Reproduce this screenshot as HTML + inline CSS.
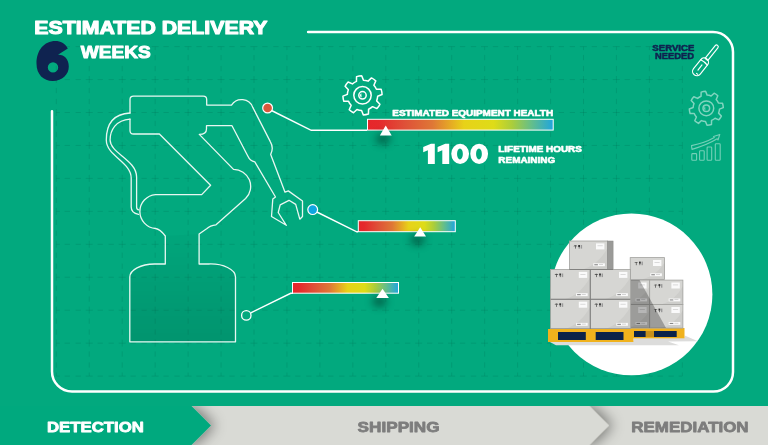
<!DOCTYPE html>
<html><head><meta charset="utf-8">
<style>
html,body{margin:0;padding:0;width:768px;height:445px;overflow:hidden;background:#02a97e;}
svg{display:block;will-change:transform;}
text{font-family:"Liberation Sans",sans-serif;font-weight:700;}
</style></head>
<body>
<svg width="768" height="445" viewBox="0 0 768 445">
<defs>
  <linearGradient id="hg" x1="0" x2="1" y1="0" y2="0">
    <stop offset="0" stop-color="#e6262b"/>
    <stop offset="0.06" stop-color="#e5292c"/>
    <stop offset="0.2" stop-color="#df5038"/>
    <stop offset="0.35" stop-color="#df7736"/>
    <stop offset="0.44" stop-color="#e5a626"/>
    <stop offset="0.52" stop-color="#e8d218"/>
    <stop offset="0.68" stop-color="#dedc18"/>
    <stop offset="0.78" stop-color="#aacd3c"/>
    <stop offset="0.88" stop-color="#66bf88"/>
    <stop offset="1" stop-color="#1fa5de"/>
  </linearGradient>
  <linearGradient id="basefill" x1="0" x2="0" y1="0" y2="1">
    <stop offset="0" stop-color="#000" stop-opacity="0.02"/>
    <stop offset="1" stop-color="#000" stop-opacity="0.12"/>
  </linearGradient>
  <filter id="tshadow" x="-100%" y="-100%" width="300%" height="300%">
    <feGaussianBlur stdDeviation="4"/>
  </filter>
  <filter id="cshadow" x="-50%" y="-50%" width="200%" height="200%">
    <feDropShadow dx="4" dy="0" stdDeviation="7" flood-color="#000" flood-opacity="0.45"/>
  </filter>
  <clipPath id="barclip"><rect x="0" y="406" width="768" height="39"/></clipPath>
</defs>

<!-- grid -->
<g id="grid" stroke="#000" stroke-opacity="0.085" stroke-width="1" fill="none" stroke-dasharray="7 4.83 5.3 5.68 5.3 4.83" stroke-dashoffset="3.5"><line x1="56.30" y1="46.60" x2="56.30" y2="376.10"/>
<line x1="89.25" y1="46.60" x2="89.25" y2="376.10"/>
<line x1="122.20" y1="46.60" x2="122.20" y2="376.10"/>
<line x1="155.15" y1="46.60" x2="155.15" y2="376.10"/>
<line x1="188.10" y1="46.60" x2="188.10" y2="376.10"/>
<line x1="221.05" y1="46.60" x2="221.05" y2="376.10"/>
<line x1="254.00" y1="46.60" x2="254.00" y2="376.10"/>
<line x1="286.95" y1="46.60" x2="286.95" y2="376.10"/>
<line x1="319.90" y1="46.60" x2="319.90" y2="376.10"/>
<line x1="352.85" y1="46.60" x2="352.85" y2="376.10"/>
<line x1="385.80" y1="46.60" x2="385.80" y2="376.10"/>
<line x1="418.75" y1="46.60" x2="418.75" y2="376.10"/>
<line x1="451.70" y1="46.60" x2="451.70" y2="376.10"/>
<line x1="484.65" y1="46.60" x2="484.65" y2="376.10"/>
<line x1="517.60" y1="46.60" x2="517.60" y2="376.10"/>
<line x1="550.55" y1="46.60" x2="550.55" y2="376.10"/>
<line x1="583.50" y1="46.60" x2="583.50" y2="376.10"/>
<line x1="616.45" y1="46.60" x2="616.45" y2="376.10"/>
<line x1="649.40" y1="46.60" x2="649.40" y2="376.10"/>
<line x1="682.35" y1="46.60" x2="682.35" y2="376.10"/>
<line x1="56.30" y1="46.60" x2="682.35" y2="46.60"/>
<line x1="56.30" y1="79.55" x2="682.35" y2="79.55"/>
<line x1="56.30" y1="112.50" x2="682.35" y2="112.50"/>
<line x1="56.30" y1="145.45" x2="682.35" y2="145.45"/>
<line x1="56.30" y1="178.40" x2="682.35" y2="178.40"/>
<line x1="56.30" y1="211.35" x2="682.35" y2="211.35"/>
<line x1="56.30" y1="244.30" x2="682.35" y2="244.30"/>
<line x1="56.30" y1="277.25" x2="682.35" y2="277.25"/>
<line x1="56.30" y1="310.20" x2="682.35" y2="310.20"/>
<line x1="56.30" y1="343.15" x2="682.35" y2="343.15"/>
<line x1="56.30" y1="376.10" x2="682.35" y2="376.10"/></g>

<!-- border -->
<path d="M308.1,32 H713 A20,20 0 0 1 733,52 V372 A19.5,19.5 0 0 1 713.5,391.5 H72 A20,20 0 0 1 52,371.5 V111.3" fill="none" stroke="#fff" stroke-width="2.5" stroke-linecap="round"/>

<!-- title -->
<text x="34.30" y="34.05" font-size="18.46" fill="#fff" stroke="#fff" stroke-width="1.1" stroke-linejoin="round" textLength="233.15" lengthAdjust="spacingAndGlyphs">ESTIMATED DELIVERY</text>
<text x="80.85" y="58.40" font-size="17.01" fill="#fff" stroke="#fff" stroke-width="1.0" stroke-linejoin="round" textLength="69.85" lengthAdjust="spacingAndGlyphs">WEEKS</text>
<text x="392.28" y="115.60" font-size="8.61" fill="#fff" stroke="#fff" stroke-width="0.6" stroke-linejoin="round" textLength="160.80" lengthAdjust="spacingAndGlyphs">ESTIMATED EQUIPMENT HEALTH</text>
<text x="498.32" y="151.95" font-size="8.78" fill="#fff" stroke="#fff" stroke-width="0.6" stroke-linejoin="round" textLength="83.46" lengthAdjust="spacingAndGlyphs">LIFETIME HOURS</text>
<text x="498.35" y="163.20" font-size="8.78" fill="#fff" stroke="#fff" stroke-width="0.6" stroke-linejoin="round" textLength="56.80" lengthAdjust="spacingAndGlyphs">REMAINING</text>
<text x="652.39" y="50.65" font-size="8.35" fill="#0f2350" stroke="#0f2350" stroke-width="0.5" stroke-linejoin="round" textLength="41.92" lengthAdjust="spacingAndGlyphs">SERVICE</text>
<text x="655.00" y="59.25" font-size="8.35" fill="#0f2350" stroke="#0f2350" stroke-width="0.5" stroke-linejoin="round" textLength="38.88" lengthAdjust="spacingAndGlyphs">NEEDED</text>
<path fill="#fff" fill-rule="evenodd" d="M431,143.7 H434.8 V164 H427.9 V150.3 L423.2,152.2 V146.9 Z M445.3,143.7 H449.2 V164 H442.3 V150.3 L437.6,152.2 V146.9 Z M469.05,153.85 A8.9,10.2 0 1 1 451.25,153.85 A8.9,10.2 0 1 1 469.05,153.85 Z M462.85,153.90 A2.9,5.5 0 1 0 457.05,153.90 A2.9,5.5 0 1 0 462.85,153.90 Z M488.05,153.85 A8.9,10.2 0 1 1 470.25,153.85 A8.9,10.2 0 1 1 488.05,153.85 Z M481.85,153.90 A2.9,5.5 0 1 0 476.05,153.90 A2.9,5.5 0 1 0 481.85,153.90 Z"/>
<path fill="#0f2350" fill-rule="evenodd" d="M67.8,48.4 C64.8,43.5 60.5,41.1 55.5,41.1 C44,41.1 36.5,50.5 36.5,63.5 C36.5,74.5 43.5,81 52.7,81 C62.3,81 68.8,74.5 68.8,66.5 C68.8,58.5 63.5,54.3 58,54.8 Z M58.2,67.4 A5.2,5.2 0 1 0 47.8,67.4 A5.2,5.2 0 1 0 58.2,67.4 Z"/>

<!-- robot base fill -->
<path d="M165.3,236 V264 H154.5 A25,13 0 0 0 129.8,277 V341.8 H235.5 V277 A25,13 0 0 0 208.8,264 H199.1 V234 Z" fill="url(#basefill)"/>

<!-- robot -->
<g fill="none" stroke="#e8f7f1" stroke-width="1.3" stroke-linejoin="round" stroke-linecap="round">
  <path d="M130,119.1 V130.5 Q130,134 133.5,134 H159.4 L210.6,185.3 L201.7,194.6 H155.5 A17,17 0 0 0 155.6,228.5 Q160,229 165.3,236 V264 H154.5 A25,13 0 0 0 129.8,277 V341.8 H235.5 V277 A25,13 0 0 0 208.8,264 H199.1 V234 L207,228.5 Q210,225.5 216,224.8 L245.6,198.5 A17,17 0 0 0 233.5,169.4 L199.3,134.4 Q206.5,134.4 206.5,129 V125.7 H232 L247.8,156 Q250,161 254.8,161.8 L275.5,197 L272.8,199 L271.5,216.5 L286.3,225.3 L278.2,212.5 L280.2,204.8 L289,200.3 L295.7,204.4 L299.8,219.2 L302.5,216.5 L302.5,201 L288.3,190.9 L285,192.2 L280.4,180 L270.7,154.4 Q274,148 270.3,141.6 L252.8,107.4 A12,12 0 0 0 231.5,105.1 H206.7 V99.7 Q206.7,96.2 203.2,96.2 H133.5 Q130,96.2 130,99.7 V113"/>
  <path d="M130,113 C112,114 106.3,126 106.3,140 C106.3,156 131.2,162 131.2,178 V207 Q131.2,213 138.5,214.3"/>
  <path d="M130,119.1 C116,120 110.1,130 110.1,140 C110.1,153 136.6,160 136.6,177 V207 Q136.6,209.8 138.8,209.8"/>
</g>

<!-- connectors -->
<g stroke="#fff" fill="none" stroke-width="1.4">
  <polyline points="271.5,110.5 311.2,130.3 367,130.3"/>
  <polyline points="316.8,212 356.8,231.8 358,231.8"/>
  <polyline points="250.8,312.8 290.7,293.3 293,293.3"/>
</g>
<circle cx="267.6" cy="108" r="4.9" fill="#d9583b" stroke="#fff" stroke-width="1.2"/>
<circle cx="312.7" cy="209.6" r="4.9" fill="#0fa6e0" stroke="#fff" stroke-width="1.2"/>
<circle cx="246.3" cy="315.4" r="4.7" fill="none" stroke="#fff" stroke-width="1.3"/>

<!-- bars -->
<rect x="367.5" y="119.3" width="185.7" height="10.8" fill="url(#hg)" stroke="#fff" stroke-width="1"/>
<rect x="358.3" y="220.7" width="97" height="11" fill="url(#hg)" stroke="#fff" stroke-width="1"/>
<rect x="292.5" y="282.5" width="106" height="10.7" fill="url(#hg)" stroke="#fff" stroke-width="1"/>

<!-- triangle shadows -->
<g fill="#000" opacity="0.5" filter="url(#tshadow)">
  <ellipse cx="383" cy="139" rx="7" ry="4.5"/>
  <ellipse cx="417.5" cy="240" rx="7" ry="4.5"/>
  <ellipse cx="379.5" cy="301.5" rx="7" ry="4.5"/>
</g>
<g fill="#fff">
  <polygon points="385.7,125.6 391.7,135.5 379.9,135.5"/>
  <polygon points="420.2,227.2 426,236.6 414.2,236.6"/>
  <polygon points="382.5,288.7 388.9,298.1 376.3,298.1"/>
</g>

<!-- gear icon -->
<g fill="none" stroke="#fff" stroke-width="1.5" stroke-linejoin="round"><path d="M356.44,81.36 L356.56,76.62 A19.6,19.6 0 0 1 361.70,75.72 L363.43,80.13 A15.2,15.2 0 0 1 368.07,81.16 L371.50,77.89 A19.6,19.6 0 0 1 375.78,80.88 L373.88,85.23 A15.2,15.2 0 0 1 376.44,89.24 L381.18,89.36 A19.6,19.6 0 0 1 382.08,94.50 L377.67,96.23 A15.2,15.2 0 0 1 376.64,100.87 L379.91,104.30 A19.6,19.6 0 0 1 376.92,108.58 L372.57,106.68 A15.2,15.2 0 0 1 368.56,109.24 L368.44,113.98 A19.6,19.6 0 0 1 363.30,114.88 L361.57,110.47 A15.2,15.2 0 0 1 356.93,109.44 L353.50,112.71 A19.6,19.6 0 0 1 349.22,109.72 L351.12,105.37 A15.2,15.2 0 0 1 348.56,101.36 L343.82,101.24 A19.6,19.6 0 0 1 342.92,96.10 L347.33,94.37 A15.2,15.2 0 0 1 348.36,89.73 L345.09,86.30 A19.6,19.6 0 0 1 348.08,82.02 L352.43,83.92 A15.2,15.2 0 0 1 356.44,81.36 Z"/><circle cx="362.5" cy="95.3" r="8.7"/><circle cx="362.5" cy="95.3" r="3.7"/><path d="M361.3,93.2 A2.4,2.4 0 0 0 361.6,97.6 Z" fill="#fff" stroke="none"/></g>
<g fill="none" stroke="#fff" stroke-opacity="0.5" stroke-width="1.5" stroke-linejoin="round"><path d="M701.04,96.19 L701.15,92.10 A17,17 0 0 1 705.60,91.31 L707.11,95.12 A13.2,13.2 0 0 1 711.14,96.02 L714.11,93.20 A17,17 0 0 1 717.82,95.80 L716.19,99.55 A13.2,13.2 0 0 1 718.41,103.04 L722.50,103.15 A17,17 0 0 1 723.29,107.60 L719.48,109.11 A13.2,13.2 0 0 1 718.58,113.14 L721.40,116.11 A17,17 0 0 1 718.80,119.82 L715.05,118.19 A13.2,13.2 0 0 1 711.56,120.41 L711.45,124.50 A17,17 0 0 1 707.00,125.29 L705.49,121.48 A13.2,13.2 0 0 1 701.46,120.58 L698.49,123.40 A17,17 0 0 1 694.78,120.80 L696.41,117.05 A13.2,13.2 0 0 1 694.19,113.56 L690.10,113.45 A17,17 0 0 1 689.31,109.00 L693.12,107.49 A13.2,13.2 0 0 1 694.02,103.46 L691.20,100.49 A17,17 0 0 1 693.80,96.78 L697.55,98.41 A13.2,13.2 0 0 1 701.04,96.19 Z"/><circle cx="706.3" cy="108.3" r="7.4"/><circle cx="706.3" cy="108.3" r="3.3"/><path d="M705.2,106.4 A2.2,2.2 0 0 0 705.5,110.4 Z" fill="#fff" fill-opacity="0.45" stroke="none"/></g>
<g fill="none" stroke="#fff" stroke-opacity="0.45" stroke-width="1.1" stroke-linejoin="round"><rect x="691.8" y="153.6" width="4.8" height="6.6" rx="0.8"/><rect x="699.6" y="150.8" width="4.6" height="9.4" rx="0.8"/><rect x="707.1" y="147" width="4.6" height="13.2" rx="0.8"/><rect x="715.3" y="143.8" width="4.9" height="16.4" rx="0.8"/><path d="M691.5,145.6 Q705,143 714.3,137.6 L713.6,136.4 L719.8,134.4 L718,140 L717.2,138.8 Q707,145 692,149.4 Z"/></g>
<g transform="translate(717.6,45.4) rotate(128.6)" fill="none" stroke="#fff" stroke-width="1.15" stroke-linejoin="round" stroke-linecap="round"><path d="M1.7,-1.7 H18 V1.7 H1.7 A1.7,1.7 0 0 1 1.7,-1.7 Z"/><path d="M21.5,-4.3 H33.2 A4.3,4.3 0 0 1 33.2,4.3 H21.5 A4.3,4.3 0 0 1 21.5,-4.3 Z"/><path d="M21.8,-4.2 Q20.8,0 21.8,4.2"/><line x1="25" y1="0" x2="31.5" y2="0"/><line x1="35" y1="-2.6" x2="35" y2="-1"/></g>

<!-- header texts -->

<!-- service needed -->

<!-- pallet circle -->
<circle cx="631.45" cy="294.4" r="80.95" fill="#fff"/>
<polygon points="548,341 633.4,341 633.4,337.5 684.6,337.5 684.6,335.5 698,341.2 668,341.4 679,345.2 556,345.2" fill="#dcdcdb"/>
<rect x="630.5" y="328" width="54" height="10.3" fill="#f0b21d"/>
<rect x="634" y="331" width="11.8" height="6" fill="#0b2249"/>
<rect x="654" y="331" width="22.7" height="6" fill="#0b2249"/>
<rect x="645.8" y="331" width="8.2" height="6" fill="#c8901a"/>
<rect x="630.2" y="257.6" width="34.3" height="21.8" fill="#d6d6d3"/>
<path d="M664.5,263.1 Q655.9,276.1 642.2,279.4 H664.5 Z" fill="#cdcdca"/>
<g fill="#333"><path d="M634.2,262.8 Q636.2,261.0 638.2,262.8 Z"/><rect x="635.9" y="262.6" width="0.6" height="2.6"/><rect x="639.0" y="261.6" width="1.8" height="2" /><rect x="639.6" y="263.6" width="0.6" height="1.6"/></g>
<g fill="#999"><rect x="641.5" y="261.6" width="1.4" height="3.6"/></g>
<rect x="653.0" y="260.0" width="8.4" height="6" fill="#fafafa"/>
<rect x="654.5" y="262.2" width="5.2" height="0.5" fill="#bbb"/>
<rect x="650.3" y="273.3" width="11.6" height="2.9" fill="#fafafa"/>
<rect x="651.3" y="274.2" width="3.6" height="1.1" fill="#888"/>
<rect x="656.0" y="274.2" width="4" height="0.6" fill="#bbb"/>
<rect x="630.2" y="257.6" width="34.3" height="21.8" fill="none" stroke="#a2a29f" stroke-width="0.8"/>
<rect x="615.0" y="280.1" width="34.7" height="24.5" fill="#d6d6d3"/>
<path d="M649.7,286.2 Q641.0,300.9 627.1,304.6 H649.7 Z" fill="#cdcdca"/>
<g fill="#333"><path d="M619.0,285.3 Q621.0,283.5 623.0,285.3 Z"/><rect x="620.7" y="285.1" width="0.6" height="2.6"/><rect x="623.8" y="284.1" width="1.8" height="2" /><rect x="624.4" y="286.1" width="0.6" height="1.6"/></g>
<g fill="#999"><rect x="626.3" y="284.1" width="1.4" height="3.6"/></g>
<rect x="638.2" y="282.5" width="8.4" height="6" fill="#fafafa"/>
<rect x="639.7" y="284.7" width="5.2" height="0.5" fill="#bbb"/>
<rect x="635.5" y="298.5" width="11.6" height="2.9" fill="#fafafa"/>
<rect x="636.5" y="299.4" width="3.6" height="1.1" fill="#888"/>
<rect x="641.2" y="299.4" width="4" height="0.6" fill="#bbb"/>
<rect x="615.0" y="280.1" width="34.7" height="24.5" fill="none" stroke="#a2a29f" stroke-width="0.8"/>
<rect x="649.7" y="280.1" width="33.2" height="24.5" fill="#d6d6d3"/>
<path d="M682.9,286.2 Q674.6,300.9 661.3,304.6 H682.9 Z" fill="#cdcdca"/>
<g fill="#333"><path d="M653.7,285.3 Q655.7,283.5 657.7,285.3 Z"/><rect x="655.4" y="285.1" width="0.6" height="2.6"/><rect x="658.5" y="284.1" width="1.8" height="2" /><rect x="659.1" y="286.1" width="0.6" height="1.6"/></g>
<g fill="#999"><rect x="661.0" y="284.1" width="1.4" height="3.6"/></g>
<rect x="671.4" y="282.5" width="8.4" height="6" fill="#fafafa"/>
<rect x="672.9" y="284.7" width="5.2" height="0.5" fill="#bbb"/>
<rect x="668.7" y="298.5" width="11.6" height="2.9" fill="#fafafa"/>
<rect x="669.7" y="299.4" width="3.6" height="1.1" fill="#888"/>
<rect x="674.4" y="299.4" width="4" height="0.6" fill="#bbb"/>
<rect x="649.7" y="280.1" width="33.2" height="24.5" fill="none" stroke="#a2a29f" stroke-width="0.8"/>
<rect x="615.0" y="304.6" width="34.7" height="23.5" fill="#d6d6d3"/>
<path d="M649.7,310.5 Q641.0,324.6 627.1,328.1 H649.7 Z" fill="#cdcdca"/>
<g fill="#333"><path d="M619.0,309.8 Q621.0,308.0 623.0,309.8 Z"/><rect x="620.7" y="309.6" width="0.6" height="2.6"/><rect x="623.8" y="308.6" width="1.8" height="2" /><rect x="624.4" y="310.6" width="0.6" height="1.6"/></g>
<g fill="#999"><rect x="626.3" y="308.6" width="1.4" height="3.6"/></g>
<rect x="638.2" y="307.0" width="8.4" height="6" fill="#fafafa"/>
<rect x="639.7" y="309.2" width="5.2" height="0.5" fill="#bbb"/>
<rect x="635.5" y="322.0" width="11.6" height="2.9" fill="#fafafa"/>
<rect x="636.5" y="322.9" width="3.6" height="1.1" fill="#888"/>
<rect x="641.2" y="322.9" width="4" height="0.6" fill="#bbb"/>
<rect x="615.0" y="304.6" width="34.7" height="23.5" fill="none" stroke="#a2a29f" stroke-width="0.8"/>
<rect x="649.7" y="304.6" width="33.2" height="23.5" fill="#d6d6d3"/>
<path d="M682.9,310.5 Q674.6,324.6 661.3,328.1 H682.9 Z" fill="#cdcdca"/>
<g fill="#333"><path d="M653.7,309.8 Q655.7,308.0 657.7,309.8 Z"/><rect x="655.4" y="309.6" width="0.6" height="2.6"/><rect x="658.5" y="308.6" width="1.8" height="2" /><rect x="659.1" y="310.6" width="0.6" height="1.6"/></g>
<g fill="#999"><rect x="661.0" y="308.6" width="1.4" height="3.6"/></g>
<rect x="671.4" y="307.0" width="8.4" height="6" fill="#fafafa"/>
<rect x="672.9" y="309.2" width="5.2" height="0.5" fill="#bbb"/>
<rect x="668.7" y="322.0" width="11.6" height="2.9" fill="#fafafa"/>
<rect x="669.7" y="322.9" width="3.6" height="1.1" fill="#888"/>
<rect x="674.4" y="322.9" width="4" height="0.6" fill="#bbb"/>
<rect x="649.7" y="304.6" width="33.2" height="23.5" fill="none" stroke="#a2a29f" stroke-width="0.8"/>
<polygon points="631,280.1 639.5,280.1 666,328 631,328" fill="#000" fill-opacity="0.27"/>
<rect x="569.4" y="241.0" width="38.1" height="28.4" fill="#d6d6d3"/>
<path d="M607.5,248.1 Q598.0,265.1 582.7,269.4 H607.5 Z" fill="#cdcdca"/>
<g fill="#333"><path d="M573.4,246.2 Q575.4,244.4 577.4,246.2 Z"/><rect x="575.1" y="246.0" width="0.6" height="2.6"/><rect x="578.2" y="245.0" width="1.8" height="2" /><rect x="578.8" y="247.0" width="0.6" height="1.6"/></g>
<g fill="#999"><rect x="580.7" y="245.0" width="1.4" height="3.6"/></g>
<rect x="596.0" y="243.4" width="8.4" height="6" fill="#fafafa"/>
<rect x="597.5" y="245.6" width="5.2" height="0.5" fill="#bbb"/>
<rect x="593.3" y="263.3" width="11.6" height="2.9" fill="#fafafa"/>
<rect x="594.3" y="264.2" width="3.6" height="1.1" fill="#888"/>
<rect x="599.0" y="264.2" width="4" height="0.6" fill="#bbb"/>
<rect x="569.4" y="241.0" width="38.1" height="28.4" fill="none" stroke="#a2a29f" stroke-width="0.8"/>
<rect x="607.5" y="241" width="5.6" height="28.4" fill="#9a9a98"/><rect x="607.5" y="241" width="5.6" height="28.4" fill="none" stroke="#8a8a88" stroke-width="0.5"/>
<rect x="550.5" y="269.5" width="39.8" height="29.8" fill="#d6d6d3"/>
<path d="M590.3,276.9 Q580.4,294.8 564.4,299.3 H590.3 Z" fill="#cdcdca"/>
<g fill="#333"><path d="M554.5,274.7 Q556.5,272.9 558.5,274.7 Z"/><rect x="556.2" y="274.5" width="0.6" height="2.6"/><rect x="559.3" y="273.5" width="1.8" height="2" /><rect x="559.9" y="275.5" width="0.6" height="1.6"/></g>
<g fill="#999"><rect x="561.8" y="273.5" width="1.4" height="3.6"/></g>
<rect x="578.8" y="271.9" width="8.4" height="6" fill="#fafafa"/>
<rect x="580.3" y="274.1" width="5.2" height="0.5" fill="#bbb"/>
<rect x="576.1" y="293.2" width="11.6" height="2.9" fill="#fafafa"/>
<rect x="577.1" y="294.1" width="3.6" height="1.1" fill="#888"/>
<rect x="581.8" y="294.1" width="4" height="0.6" fill="#bbb"/>
<rect x="550.5" y="269.5" width="39.8" height="29.8" fill="none" stroke="#a2a29f" stroke-width="0.8"/>
<rect x="590.3" y="269.5" width="40.2" height="29.8" fill="#d6d6d3"/>
<path d="M630.5,276.9 Q620.4,294.8 604.4,299.3 H630.5 Z" fill="#cdcdca"/>
<g fill="#333"><path d="M594.3,274.7 Q596.3,272.9 598.3,274.7 Z"/><rect x="596.0" y="274.5" width="0.6" height="2.6"/><rect x="599.1" y="273.5" width="1.8" height="2" /><rect x="599.7" y="275.5" width="0.6" height="1.6"/></g>
<g fill="#999"><rect x="601.6" y="273.5" width="1.4" height="3.6"/></g>
<rect x="619.0" y="271.9" width="8.4" height="6" fill="#fafafa"/>
<rect x="620.5" y="274.1" width="5.2" height="0.5" fill="#bbb"/>
<rect x="616.3" y="293.2" width="11.6" height="2.9" fill="#fafafa"/>
<rect x="617.3" y="294.1" width="3.6" height="1.1" fill="#888"/>
<rect x="622.0" y="294.1" width="4" height="0.6" fill="#bbb"/>
<rect x="590.3" y="269.5" width="40.2" height="29.8" fill="none" stroke="#a2a29f" stroke-width="0.8"/>
<rect x="550.5" y="299.3" width="39.8" height="29.7" fill="#d6d6d3"/>
<path d="M590.3,306.7 Q580.4,324.5 564.4,329.0 H590.3 Z" fill="#cdcdca"/>
<g fill="#333"><path d="M554.5,304.5 Q556.5,302.7 558.5,304.5 Z"/><rect x="556.2" y="304.3" width="0.6" height="2.6"/><rect x="559.3" y="303.3" width="1.8" height="2" /><rect x="559.9" y="305.3" width="0.6" height="1.6"/></g>
<g fill="#999"><rect x="561.8" y="303.3" width="1.4" height="3.6"/></g>
<rect x="578.8" y="301.7" width="8.4" height="6" fill="#fafafa"/>
<rect x="580.3" y="303.9" width="5.2" height="0.5" fill="#bbb"/>
<rect x="576.1" y="322.9" width="11.6" height="2.9" fill="#fafafa"/>
<rect x="577.1" y="323.8" width="3.6" height="1.1" fill="#888"/>
<rect x="581.8" y="323.8" width="4" height="0.6" fill="#bbb"/>
<rect x="550.5" y="299.3" width="39.8" height="29.7" fill="none" stroke="#a2a29f" stroke-width="0.8"/>
<rect x="590.3" y="299.3" width="40.2" height="29.7" fill="#d6d6d3"/>
<path d="M630.5,306.7 Q620.4,324.5 604.4,329.0 H630.5 Z" fill="#cdcdca"/>
<g fill="#333"><path d="M594.3,304.5 Q596.3,302.7 598.3,304.5 Z"/><rect x="596.0" y="304.3" width="0.6" height="2.6"/><rect x="599.1" y="303.3" width="1.8" height="2" /><rect x="599.7" y="305.3" width="0.6" height="1.6"/></g>
<g fill="#999"><rect x="601.6" y="303.3" width="1.4" height="3.6"/></g>
<rect x="619.0" y="301.7" width="8.4" height="6" fill="#fafafa"/>
<rect x="620.5" y="303.9" width="5.2" height="0.5" fill="#bbb"/>
<rect x="616.3" y="322.9" width="11.6" height="2.9" fill="#fafafa"/>
<rect x="617.3" y="323.8" width="3.6" height="1.1" fill="#888"/>
<rect x="622.0" y="323.8" width="4" height="0.6" fill="#bbb"/>
<rect x="590.3" y="299.3" width="40.2" height="29.7" fill="none" stroke="#a2a29f" stroke-width="0.8"/>
<g stroke="#7d7d7b" stroke-width="0.9"><line x1="569.4" y1="269.5" x2="613.1" y2="269.5"/><line x1="550.5" y1="299.3" x2="630.5" y2="299.3"/><line x1="590.3" y1="269.5" x2="590.3" y2="329"/><line x1="550.5" y1="329" x2="630.5" y2="329"/></g>
<rect x="548" y="329" width="85.4" height="13" fill="#f0b21d"/>
<rect x="558" y="332" width="27.8" height="8" fill="#0b2249"/>
<rect x="595.7" y="332" width="27.8" height="8" fill="#0b2249"/>

<!-- bottom bar -->
<rect x="0" y="406" width="768" height="39" fill="#d9dad5"/>
<g clip-path="url(#barclip)">
<polygon points="-20,406 589.3,406 608.8,425.5 589.3,445 -20,445" fill="#d9dad5" filter="url(#cshadow)"/>
<polygon points="-20,406 191.5,406 211,425.5 191.5,445 -20,445" fill="#02a97e" filter="url(#cshadow)"/>
</g>
<text x="46.92" y="431.70" font-size="14.85" fill="#fff" stroke="#fff" stroke-width="0.8" stroke-linejoin="round" textLength="96.91" lengthAdjust="spacingAndGlyphs">DETECTION</text>
<text x="357.64" y="431.50" font-size="15.05" fill="#7d7d7d" stroke="#7d7d7d" stroke-width="0.8" stroke-linejoin="round" textLength="81.93" lengthAdjust="spacingAndGlyphs">SHIPPING</text>
<text x="631.34" y="431.60" font-size="14.85" fill="#7d7d7d" stroke="#7d7d7d" stroke-width="0.8" stroke-linejoin="round" textLength="117.28" lengthAdjust="spacingAndGlyphs">REMEDIATION</text>
</svg>
</body></html>
